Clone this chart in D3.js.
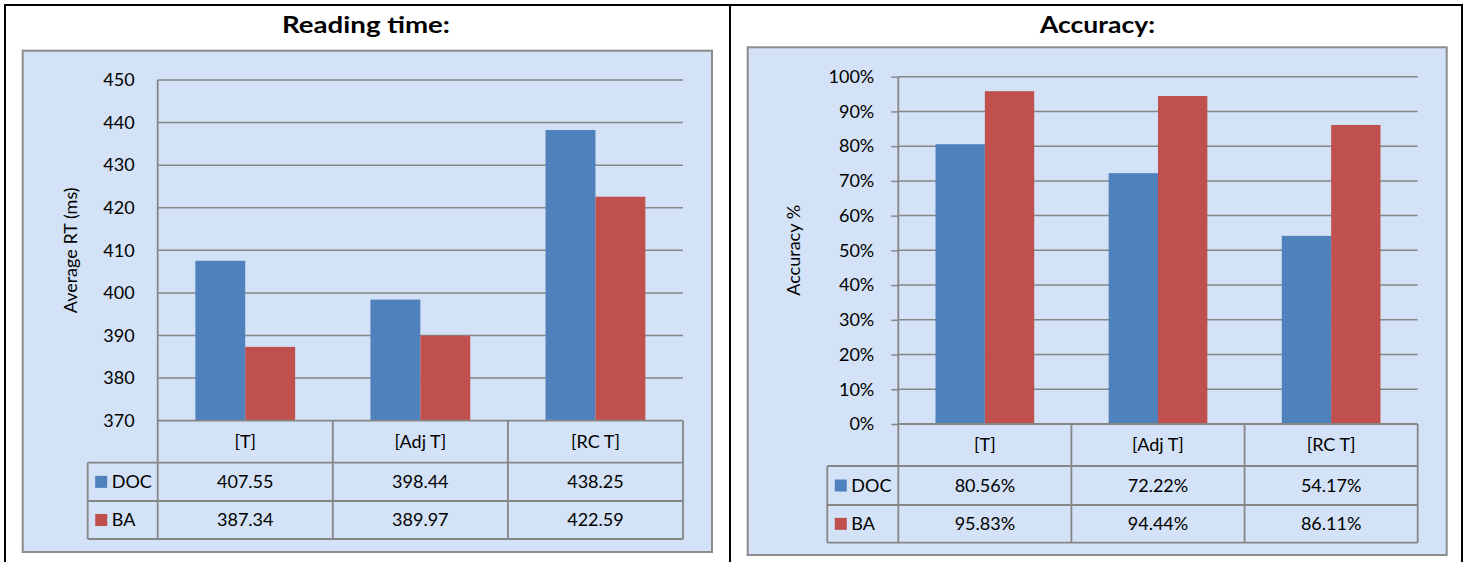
<!DOCTYPE html>
<html>
<head>
<meta charset="utf-8">
<script src="https://cdn.jsdelivr.net/npm/d3@7"></script>
<style>
  body { margin: 0; background: #fff; }
  svg { display: block; font-family: Lato, "Noto Sans", sans-serif; }
</style>
</head>
<body>
<script>
// data
const categories = ["[T]", "[Adj T]", "[RC T]"];
const seriesNames = ["DOC", "BA"];
const colors = ["#4F81BD", "#C0504D"];

const rtDoc = [407.55, 398.44, 438.25];
const rtBa = [387.34, 389.97, 422.59];
const rtTicks = [370, 380, 390, 400, 410, 420, 430, 440, 450];

const accDoc = [0.8056, 0.7222, 0.5417];
const accBa = [0.9583, 0.9444, 0.8611];
const accTicks = [0, 0.1, 0.2, 0.3, 0.4, 0.5, 0.6, 0.7, 0.8, 0.9, 1.0];

const FS = 18;

const svg = d3.select("body").append("svg")
  .attr("width", 1472)
  .attr("height", 562);

// black outer table
svg.append("rect")
  .attr("x", 5).attr("y", 5)
  .attr("width", 1457).attr("height", 570)
  .attr("fill", "none").attr("stroke", "#000").attr("stroke-width", 2);
svg.append("line")
  .attr("x1", 730).attr("x2", 730).attr("y1", 5).attr("y2", 562)
  .attr("stroke", "#000").attr("stroke-width", 2);

function drawPanel(p) {
  const g = svg.append("g");

  g.append("text")
    .attr("x", p.titleX).attr("y", 33)
    .attr("text-anchor", "middle")
    .attr("font-weight", "bold").attr("font-size", 22.5)
    .attr("textLength", p.titleW).attr("lengthAdjust", "spacingAndGlyphs")
    .text(p.title);

  // chart area
  g.append("rect")
    .attr("x", p.box[0]).attr("y", p.box[1])
    .attr("width", p.box[2] - p.box[0]).attr("height", p.box[3] - p.box[1])
    .attr("fill", "#D3E2F6").attr("stroke", "#8C8C8C").attr("stroke-width", 2);

  const x = d3.scaleBand().domain(categories).range([p.left, p.right]);
  const y = d3.scaleLinear().domain(p.domain).range([p.bottom, p.top]);
  const bw = x.bandwidth() * 0.285;

  // grid lines
  g.selectAll(".grid").data(p.ticks.slice(1)).join("line")
    .attr("x1", p.left).attr("x2", p.right)
    .attr("y1", d => y(d)).attr("y2", d => y(d))
    .attr("stroke", "#868686").attr("stroke-width", 1.5);

  // y axis
  const yAxis = d3.axisLeft(y).tickValues(p.ticks).tickFormat(p.fmt)
    .tickSize(p.tickLen).tickPadding(p.tickPad);
  const ax = g.append("g").attr("transform", `translate(${p.left},0)`).call(yAxis);
  ax.select(".domain").remove();
  ax.selectAll("line").attr("stroke", "#868686").attr("stroke-width", 1.5);
  ax.selectAll("text").attr("font-size", FS).attr("fill", "#000")
    .attr("font-family", "Lato, sans-serif");

  g.append("text")
    .attr("transform", `translate(${p.labelX},${(p.top + p.bottom) / 2}) rotate(-90)`)
    .attr("text-anchor", "middle").attr("font-size", FS)
    .text(p.yLabel);

  // bars
  const vals = [p.doc, p.ba];
  seriesNames.forEach((s, si) => {
    g.selectAll(".bar" + si).data(categories).join("rect")
      .attr("x", (c) => x(c) + x.bandwidth() / 2 - bw + si * bw)
      .attr("width", bw)
      .attr("y", (c, i) => y(vals[si][i]))
      .attr("height", (c, i) => p.bottom - y(vals[si][i]))
      .attr("fill", colors[si]);
  });

  // data table
  const rows = p.rows; // [catBottom, docBottom, baBottom]
  const line = (x1, y1, x2, y2) => g.append("line")
    .attr("x1", x1).attr("y1", y1).attr("x2", x2).attr("y2", y2)
    .attr("stroke", "#868686").attr("stroke-width", 1.8);
  line(p.left, p.top, p.left, rows[2]);
  line(p.left, p.bottom, p.right, p.bottom);
  line(p.legendX, rows[0], p.right, rows[0]);
  line(p.legendX, rows[1], p.right, rows[1]);
  line(p.legendX, rows[2], p.right, rows[2]);
  line(p.legendX, rows[0], p.legendX, rows[2]);
  categories.forEach(c => line(x(c) + x.bandwidth(), p.bottom, x(c) + x.bandwidth(), rows[2]));

  g.selectAll(".cat").data(categories).join("text")
    .attr("x", c => x(c) + x.bandwidth() / 2)
    .attr("y", (p.bottom + rows[0]) / 2 + 6)
    .attr("text-anchor", "middle").attr("font-size", FS)
    .text(c => c);

  seriesNames.forEach((s, si) => {
    const top = rows[si], bot = rows[si + 1], mid = (top + bot) / 2;
    g.append("rect")
      .attr("x", p.legendX + 7.5).attr("y", mid - 6)
      .attr("width", 12).attr("height", 12)
      .attr("fill", colors[si]);
    g.append("text")
      .attr("x", p.legendX + 24).attr("y", mid + 6)
      .attr("font-size", FS).text(s);
    g.selectAll(".val" + si).data(categories).join("text")
      .attr("x", c => x(c) + x.bandwidth() / 2)
      .attr("y", mid + 6)
      .attr("text-anchor", "middle").attr("font-size", FS)
      .text((c, i) => p.valFmt(vals[si][i]));
  });
}

drawPanel({
  title: "Reading time:", titleX: 366, titleW: 168,
  box: [22.7, 50.7, 712, 552],
  left: 157.7, right: 683, top: 80, bottom: 420.7,
  rows: [462.7, 501, 539], legendX: 87.7,
  domain: [370, 450], ticks: rtTicks, fmt: d3.format("d"),
  tickLen: 0, tickPad: 23,
  yLabel: "Average RT (ms)", labelX: 77,
  doc: rtDoc, ba: rtBa, valFmt: d3.format(".2f")
});

drawPanel({
  title: "Accuracy:", titleX: 1097.5, titleW: 115,
  box: [747.7, 47.3, 1446.7, 555],
  left: 898.3, right: 1417.7, top: 76.7, bottom: 424,
  rows: [466, 505, 542.7], legendX: 827.3,
  domain: [0, 1], ticks: accTicks, fmt: d3.format(".0%"),
  tickLen: 7, tickPad: 17,
  yLabel: "Accuracy %", labelX: 800,
  doc: accDoc, ba: accBa, valFmt: d3.format(".2%")
});
</script>
</body>
</html>
